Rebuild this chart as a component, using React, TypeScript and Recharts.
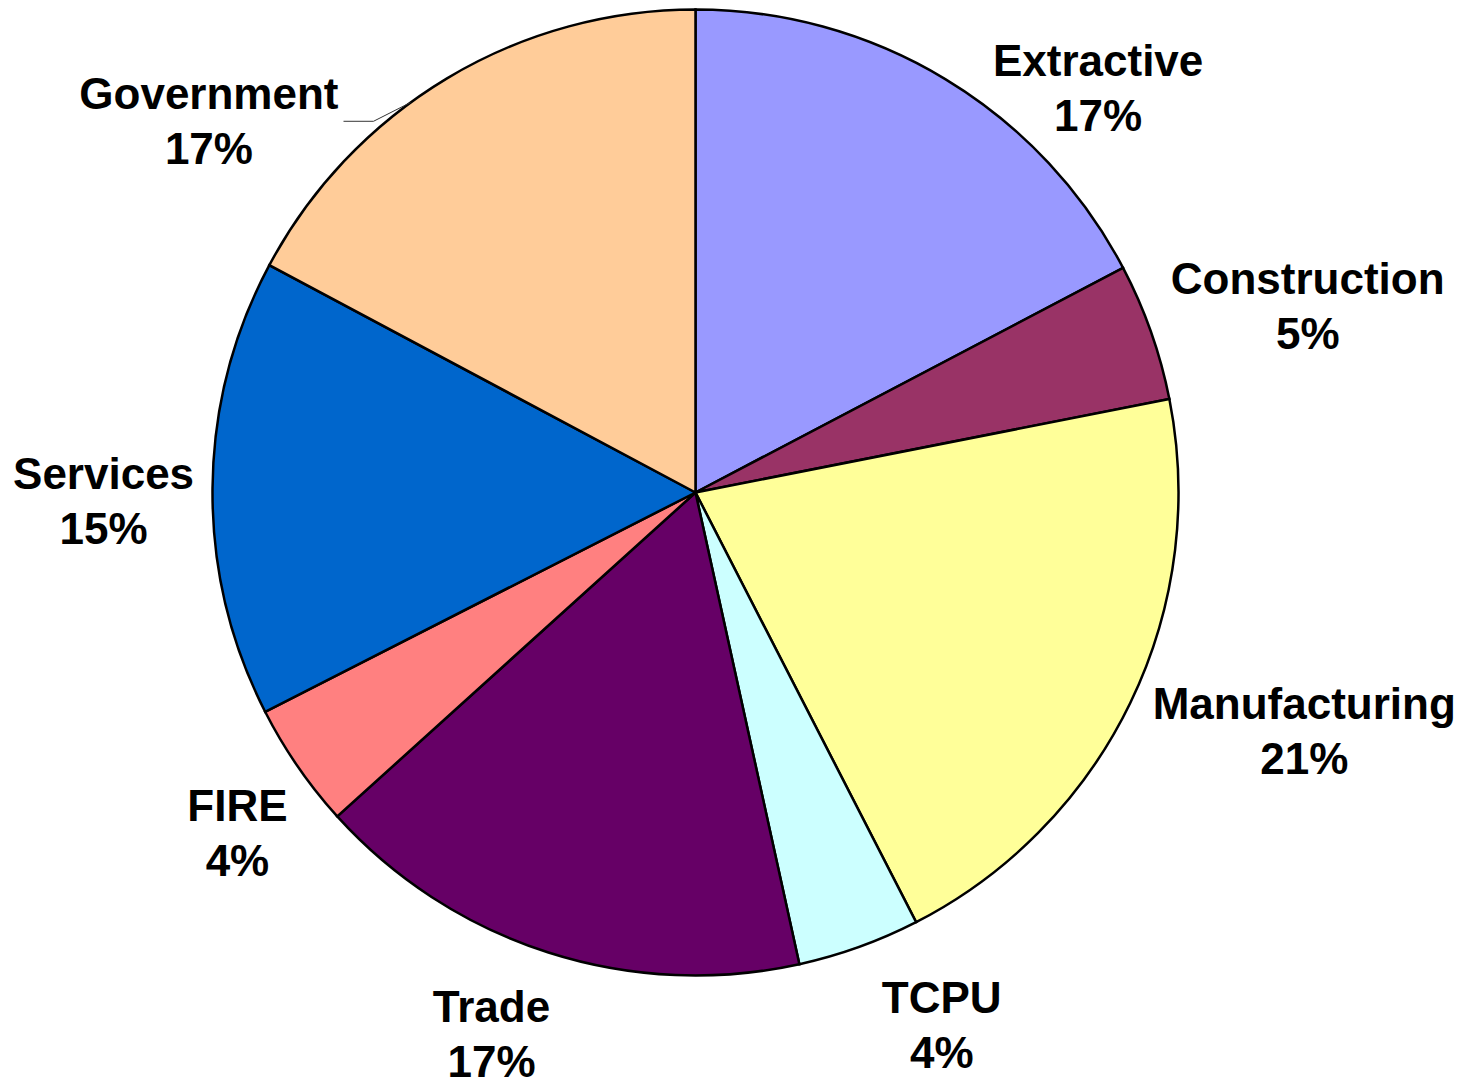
import React from 'react';
import { PieChart, Pie, Cell } from 'recharts';

const categories = ['Extractive', 'Construction', 'Manufacturing', 'TCPU', 'Trade', 'FIRE', 'Services', 'Government'];
const shares = [17.3, 4.6, 20.55, 4.1, 16.75, 4.2, 15.3, 17.2];
const colors = ['#9999FF', '#993366', '#FFFF99', '#CCFFFF', '#660066', '#FF8080', '#0066CC', '#FFCC99'];

// label placement relative to each slice: angular shift from its mid-angle (deg) and distance beyond the rim (px)
const labelShift = [-13.7, -2.5, 4.4, 5.0, -2.9, 2.1, 1.4, 21.7];
const labelGap = [88, 157, 171, 104, 96, 88, 109, 129];
const leaderLine = [false, false, false, false, false, false, false, true];
const leaderAngleShift = 5.2;

const data = categories.map((name, i) => ({ name, value: shares[i] }));

const FONT = '"Liberation Sans", Arial, sans-serif';
const FONT_SIZE = 44;
const RADIAN = Math.PI / 180;

let ctx: CanvasRenderingContext2D | null = null;
const measure = (s: string): number => {
  if (!ctx) {
    const c = document.createElement('canvas');
    ctx = c.getContext('2d');
  }
  if (!ctx) return s.length * FONT_SIZE * 0.6;
  ctx.font = `bold ${FONT_SIZE}px ${FONT}`;
  return ctx.measureText(s).width;
};

const polar = (cx: number, cy: number, r: number, a: number) => ({
  x: cx + r * Math.cos(-a * RADIAN),
  y: cy + r * Math.sin(-a * RADIAN),
});

const renderLabel = (props: any) => {
  const { cx, cy, midAngle, outerRadius, percent, index, name } = props;
  const p = polar(cx, cy, outerRadius + labelGap[index], midAngle + labelShift[index]);
  const pct = `${Math.round(percent * 100)}%`;
  let leader = null;
  if (leaderLine[index]) {
    const hw = measure(name) / 2;
    const edge = polar(cx, cy, outerRadius, midAngle + leaderAngleShift);
    const endX = p.x + hw + 5;
    const elbowX = endX + 30;
    leader = (
      <polyline
        points={`${edge.x},${edge.y} ${elbowX},${p.y} ${endX},${p.y}`}
        fill="none"
        stroke="#333"
        strokeWidth={1}
      />
    );
  }
  return (
    <g key={`lbl-${index}`}>
      {leader}
      <text x={p.x} y={p.y - 12} textAnchor="middle" fontFamily={FONT} fontWeight="bold" fontSize={FONT_SIZE} fill="#000">
        {name}
      </text>
      <text x={p.x} y={p.y + 43} textAnchor="middle" fontFamily={FONT} fontWeight="bold" fontSize={FONT_SIZE} fill="#000">
        {pct}
      </text>
    </g>
  );
};

export default function App() {
  return (
    <div style={{ position: 'absolute', left: 0, top: 0, width: 1469, height: 1085, background: '#fff' }}>
      <PieChart width={1469} height={1085} margin={{ top: 0, right: 0, bottom: 0, left: 0 }}>
        <Pie
          data={data}
          dataKey="value"
          nameKey="name"
          cx={695.5}
          cy={492.5}
          outerRadius={483}
          startAngle={90}
          endAngle={-270}
          stroke="#000"
          strokeWidth={2.5}
          label={renderLabel}
          labelLine={false}
          isAnimationActive={false}
        >
          {data.map((d, i) => (
            <Cell key={d.name} fill={colors[i]} />
          ))}
        </Pie>
      </PieChart>
    </div>
  );
}
